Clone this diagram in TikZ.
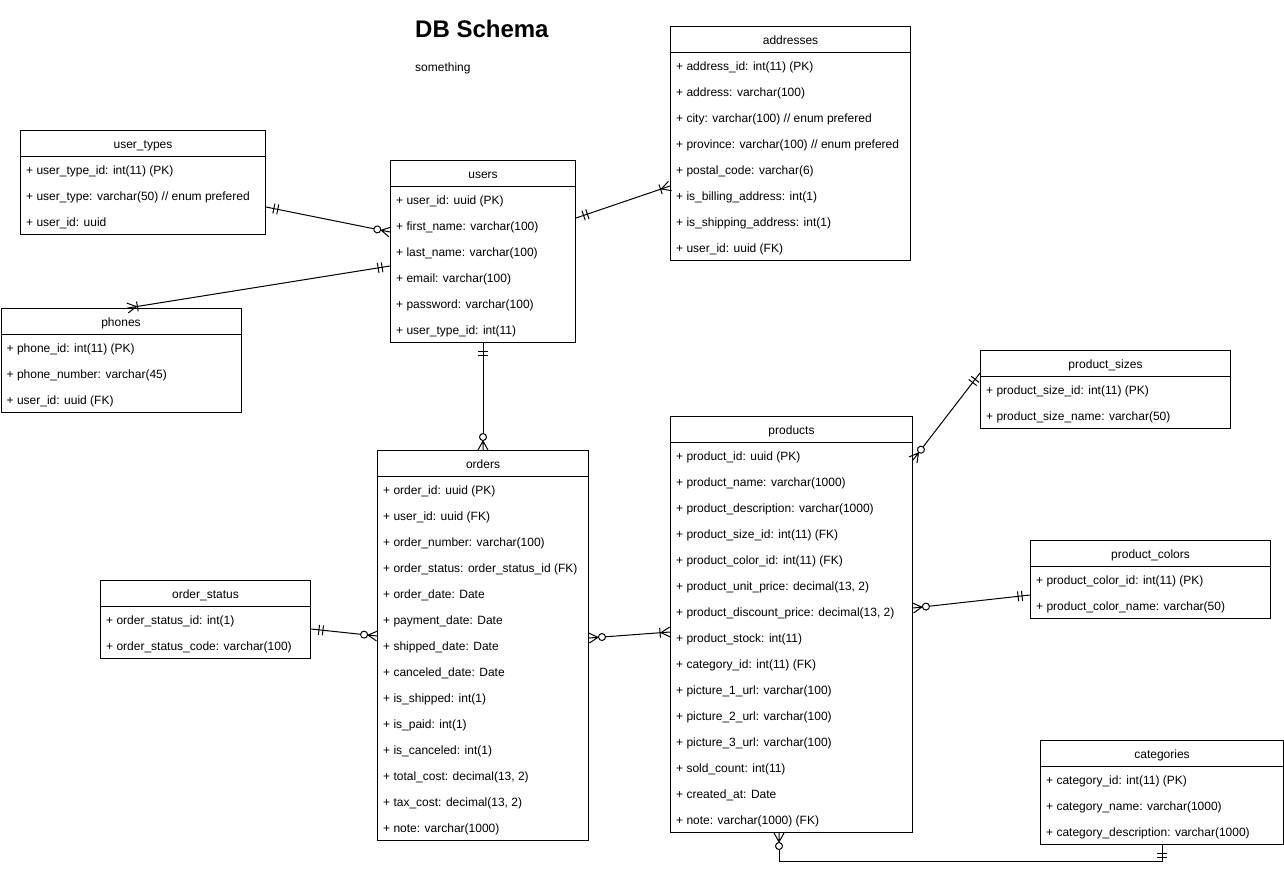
\documentclass[tikz,border=0pt]{standalone}
\usepackage{fontspec}
\setmainfont{Liberation Sans}
\usetikzlibrary{arrows.meta}
\usetikzlibrary{calc}
\catcode`\_=12

% crow's foot ends
\pgfdeclarearrow{
  name = ER one,
  setup code = {\pgfarrowssettipend{0pt}\pgfarrowssetlineend{0pt}
    \pgfarrowssetbackend{-12pt}\pgfarrowssetvisualbackend{-12pt}},
  drawing code = {\pgfsetdash{}{0pt}
    \pgfpathmoveto{\pgfpoint{-8pt}{5pt}}\pgfpathlineto{\pgfpoint{-8pt}{-5pt}}
    \pgfpathmoveto{\pgfpoint{-12pt}{5pt}}\pgfpathlineto{\pgfpoint{-12pt}{-5pt}}
    \pgfusepathqstroke}
}
\pgfdeclarearrow{
  name = ER many,
  setup code = {\pgfarrowssettipend{0pt}\pgfarrowssetlineend{0pt}
    \pgfarrowssetbackend{-10pt}\pgfarrowssetvisualbackend{-10pt}},
  drawing code = {\pgfsetdash{}{0pt}
    \pgfpathmoveto{\pgfpoint{0pt}{5pt}}\pgfpathlineto{\pgfpoint{-9pt}{0pt}}
    \pgfpathlineto{\pgfpoint{0pt}{-5pt}}
    \pgfpathmoveto{\pgfpoint{-10pt}{5pt}}\pgfpathlineto{\pgfpoint{-10pt}{-5pt}}
    \pgfusepathqstroke}
}
\pgfdeclarearrow{
  name = ER zero many,
  setup code = {\pgfarrowssettipend{0pt}\pgfarrowssetlineend{-16.5pt}
    \pgfarrowssetbackend{-16.5pt}\pgfarrowssetvisualbackend{-16.5pt}},
  drawing code = {\pgfsetdash{}{0pt}
    \pgfpathmoveto{\pgfpoint{0pt}{5pt}}\pgfpathlineto{\pgfpoint{-9pt}{0pt}}
    \pgfpathlineto{\pgfpoint{0pt}{-5pt}}
    \pgfpathmoveto{\pgfpoint{-9.5pt}{0pt}}\pgfpathlineto{\pgfpoint{0pt}{0pt}}
    \pgfpathcircle{\pgfpoint{-13pt}{0pt}}{3.5pt}
    \pgfusepathqstroke}
}

% one table: name, x, y, width, title, rows
\newcommand{\ertable}[6]{%
  \foreach \rowtext [count=\i] in {#6} {
    \node[row] (#1-\i) at (#2+6, #3+18.3+26*\i) {\rowtext};
    \xdef\nrows{\i}
  }
  \node[tbl, minimum width=#4pt, minimum height={26*(\nrows+1)}] (#1) at (#2,#3) {};
  \draw[line width=1pt] ($(#1.north west)+(0,26)$) -- ($(#1.north east)+(0,26)$);
  \node[head] (#1-title) at ($(#1.north)+(0,18.3)$) {#5};
}

\begin{document}
\begin{tikzpicture}[x=1pt, y=-1pt,
    tbl/.style={draw=black, line width=1pt, anchor=north west, inner sep=0pt},
    head/.style={anchor=base, inner sep=0pt, font=\fontsize{12}{14}\selectfont},
    row/.style={anchor=base west, inner sep=0pt, font=\fontsize{12}{14}\selectfont},
    conn/.style={draw=black, line width=1pt}]
    \useasboundingbox (0,0) rectangle (1284,870);

    \node[anchor=base west, inner sep=0pt, font=\bfseries\fontsize{24}{28}\selectfont] (title) at (415,37) {DB Schema};
    \node[anchor=base west, inner sep=0pt, font=\fontsize{12}{14}\selectfont] (subtitle) at (415,71) {something};

    \ertable{usertypes}{20}{130}{245}{user_types}{+ user_type_id: int(11) (PK), + user_type: varchar(50) // enum prefered, + user_id: uuid}
    \ertable{users}{390}{160}{185}{users}{+ user_id: uuid (PK), + first_name: varchar(100), + last_name: varchar(100), + email: varchar(100), + password: varchar(100), + user_type_id: int(11)}
    \ertable{addresses}{670}{26}{240}{addresses}{+ address_id: int(11) (PK), + address: varchar(100), + city: varchar(100) // enum prefered, + province: varchar(100) // enum prefered, + postal_code: varchar(6), + is_billing_address: int(1), + is_shipping_address: int(1), + user_id: uuid (FK)}
    \ertable{phones}{0.5}{308}{240}{phones}{+ phone_id: int(11) (PK), + phone_number: varchar(45), + user_id: uuid (FK)}
    \ertable{orders}{377}{450}{211}{orders}{+ order_id: uuid (PK), + user_id: uuid (FK), + order_number: varchar(100), + order_status: order_status_id (FK), + order_date: Date, + payment_date: Date, + shipped_date: Date, + canceled_date: Date, + is_shipped: int(1), + is_paid: int(1), + is_canceled: int(1), {+ total_cost: decimal(13, 2)}, {+ tax_cost: decimal(13, 2)}, + note: varchar(1000)}
    \ertable{orderstatus}{100}{580}{210}{order_status}{+ order_status_id: int(1), + order_status_code: varchar(100)}
    \ertable{products}{670}{416}{242}{products}{+ product_id: uuid (PK), + product_name: varchar(1000), + product_description: varchar(1000), + product_size_id: int(11) (FK), + product_color_id: int(11) (FK), {+ product_unit_price: decimal(13, 2)}, {+ product_discount_price: decimal(13, 2)}, + product_stock: int(11), + category_id: int(11) (FK), + picture_1_url: varchar(100), + picture_2_url: varchar(100), + picture_3_url: varchar(100), + sold_count: int(11), + created_at: Date, + note: varchar(1000) (FK)}
    \ertable{psizes}{980}{350}{250}{product_sizes}{+ product_size_id: int(11) (PK), + product_size_name: varchar(50)}
    \ertable{pcolors}{1030}{540}{240}{product_colors}{+ product_color_id: int(11) (PK), + product_color_name: varchar(50)}
    \ertable{categories}{1040}{740}{243}{categories}{+ category_id: int(11) (PK), + category_name: varchar(1000), + category_description: varchar(1000)}

    % relations
    \draw[conn, {ER one}-{ER zero many}] ($(usertypes.north east)+(0,77)$) -- ($(users.north west)+(0,72)$);
    \draw[conn, {ER one}-{ER many}] ($(users.north west)+(0,106)$) -- ($(phones.north west)+(127,0)$);
    \draw[conn, {ER one}-{ER many}] ($(users.north east)+(0,58)$) -- ($(addresses.north west)+(0,160)$);
    \draw[conn, {ER one}-{ER zero many}] (users.south) -- (orders.north);
    \draw[conn, {ER one}-{ER zero many}] ($(orderstatus.north east)+(0,49)$) -- ($(orders.north west)+(0,186)$);
    \draw[conn, {ER zero many}-{ER many}] ($(orders.north east)+(0,188)$) -- ($(products.north west)+(0,216)$);
    \draw[conn, {ER zero many}-{ER one}] ($(products.north east)+(0,44)$) -- ($(psizes.north west)+(0,23)$);
    \draw[conn, {ER zero many}-{ER one}] ($(products.north east)+(0,192)$) -- ($(pcolors.north west)+(0,55)$);
    \draw[conn, {ER zero many}-{ER one}] ($(products.south west)+(109,0)$) |- ($(categories.south)+(0,16)$) -- (categories.south);
\end{tikzpicture}
\end{document}
